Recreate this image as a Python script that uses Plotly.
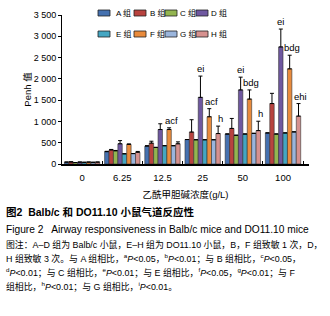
import plotly.graph_objects as go

categories = ["0", "6.25", "12.5", "25", "50", "100"]
groups = ["A 组", "B 组", "C 组", "D 组", "E 组", "F 组", "G 组", "H 组"]

A = [45, 290, 420, 575, 705, 730]
B = [50, 330, 490, 750, 835, 1420]
C = [35, 310, 390, 570, 675, 705]
D = [45, 475, 810, 1565, 1740, 2750]
E = [40, 240, 430, 570, 705, 730]
F = [45, 460, 810, 1110, 1525, 2235]
G = [40, 245, 430, 570, 720, 755]
H = [45, 275, 475, 715, 785, 1125]

errA = [0, 8, 10, 0, 0, 0]
errB = [0, 12, 45, 290, 235, 240]
errC = [0, 8, 0, 0, 0, 0]
errD = [0, 75, 135, 500, 300, 420]
errE = [0, 0, 0, 0, 0, 0]
errF = [0, 12, 40, 190, 215, 320]
errG = [0, 0, 0, 0, 0, 0]
errH = [0, 20, 45, 175, 220, 295]

# significance labels: (category index, group index, text)
sig_labels = [
    (2, 5, "acf"),
    (3, 3, "ei"), (3, 5, "acf"), (3, 7, "h"),
    (4, 3, "ei"), (4, 5, "bdg"), (4, 7, "h"),
    (5, 3, "ei"), (5, 5, "bdg"), (5, 7, "ehi"),
]

values = [A, B, C, D, E, F, G, H]
errors = [errA, errB, errC, errD, errE, errF, errG, errH]
colors = ["#4571B0", "#B8433F", "#93B550", "#6F58A0",
          "#44A6C2", "#E98B3C", "#9AB5DC", "#D6918F"]

W, Hh = 330, 316
ml, mr, mt, mb = 62, 21, 15, 152
pw, ph = W - ml - mr, Hh - mt - mb
bargap = 0.12

LAT = "Liberation Sans, Arial, sans-serif"
CJK = "Liberation Sans, Noto Sans CJK SC, sans-serif"

fig = go.Figure()
for i, (g, v, e, c) in enumerate(zip(groups, values, errors, colors)):
    fig.add_trace(go.Bar(
        name=g, x=categories, y=v,
        marker=dict(color=c, line=dict(color="#333333", width=0.6)),
        error_y=dict(type="data", array=e, symmetric=False, arrayminus=[0]*len(e),
                     color="black", thickness=1, width=2),
        showlegend=False,
    ))

def px_x(px):
    return (px - ml) / pw

def px_y(py):
    return (Hh - mb - py) / ph

ann = []
shapes = []
n = len(groups)
bw = (1 - bargap) / n
for ci, gi, txt in sig_labels:
    xpos = ci - (1 - bargap) / 2 + bw * (gi + 0.5)
    top = values[gi][ci] + errors[gi][ci]
    ann.append(dict(x=xpos, y=top, xref="x", yref="y", text=txt, showarrow=False,
                    yanchor="bottom", yshift=0, xshift=2 if gi != 3 else 0,
                    font=dict(size=9.5, family=LAT, color="black")))

# Manual two-row legend (swatch + label)
sw_x = [98, 134, 165, 196]
tx_x = [114, 148, 178, 209]
row_y = [13, 34]
for i, (g, c) in enumerate(zip(groups, colors)):
    r, k = divmod(i, 4)
    yc = row_y[r]
    shapes.append(dict(type="rect", xref="paper", yref="paper",
                       x0=px_x(sw_x[k]), x1=px_x(sw_x[k] + 12),
                       y0=px_y(yc - 3), y1=px_y(yc + 3),
                       fillcolor=c, line=dict(color="#222222", width=0.8)))
    ann.append(dict(x=px_x(tx_x[k]), y=px_y(yc), xref="paper", yref="paper", text=g,
                    showarrow=False, xanchor="left", yanchor="middle",
                    font=dict(size=8, family=CJK, color="black")))

# Captions
cap = [
    (212, "<b>图2  Balb/c 和 DO11.10 小鼠气道反应性</b>", 10.5),
    (229, "Figure 2   Airway responsiveness in Balb/c mice and DO11.10 mice", 10.2),
    (244, "图注：A–D 组为 Balb/c 小鼠，E–H 组为 DO11.10 小鼠，B，F 组致敏 1 次，D，", 8.9),
    (258, "H 组致敏 3 次。与 A 组相比，<sup>a</sup><i>P</i>&lt;0.05，<sup>b</sup><i>P</i>&lt;0.01；与 B 组相比，<sup>c</sup><i>P</i>&lt;0.05，", 8.9),
    (272, "<sup>d</sup><i>P</i>&lt;0.01；与 C 组相比，<sup>e</sup><i>P</i>&lt;0.01；与 E 组相比，<sup>f</sup><i>P</i>&lt;0.05，<sup>g</sup><i>P</i>&lt;0.01；与 F", 8.9),
    (286, "组相比，<sup>h</sup><i>P</i>&lt;0.01；与 G 组相比，<sup>i</sup><i>P</i>&lt;0.01。", 8.9),
]
for py, txt, fs in cap:
    ann.append(dict(x=px_x(4), y=px_y(py), xref="paper", yref="paper", text=txt,
                    showarrow=False, xanchor="left", yanchor="middle", align="left",
                    font=dict(size=fs, family=CJK, color="black")))

fig.update_layout(
    width=W, height=Hh,
    margin=dict(l=ml, r=mr, t=mt, b=mb, pad=0, autoexpand=False),
    paper_bgcolor="white", plot_bgcolor="white",
    barmode="group", bargap=bargap, bargroupgap=0,
    separators=". ",
    showlegend=False,
    font=dict(family=LAT, size=9, color="black"),
    xaxis=dict(type="category", showline=True, linecolor="black", linewidth=1.5,
               ticks="inside", tickson="boundaries", ticklen=3, tickcolor="black",
               showgrid=False, tickfont=dict(size=9.5, family=LAT), ticklabelstandoff=4,
               title=dict(text="乙酰甲胆碱浓度(g/L)", font=dict(size=9.5, family=CJK), standoff=9)),
    yaxis=dict(range=[0, 3500], dtick=500, tickformat=",d", showline=True, linecolor="black",
               linewidth=1, ticks="outside", ticklen=3, tickcolor="black", showgrid=False,
               zeroline=False, tickfont=dict(size=9, family=LAT),
               title=dict(text="Penh 值", font=dict(size=9.5, family=CJK), standoff=0)),
    annotations=ann,
    shapes=shapes,
)

fig.write_html("out.html", config={"displayModeBar": False},
               post_script="document.body.style.margin='0';document.body.style.padding='0';")
